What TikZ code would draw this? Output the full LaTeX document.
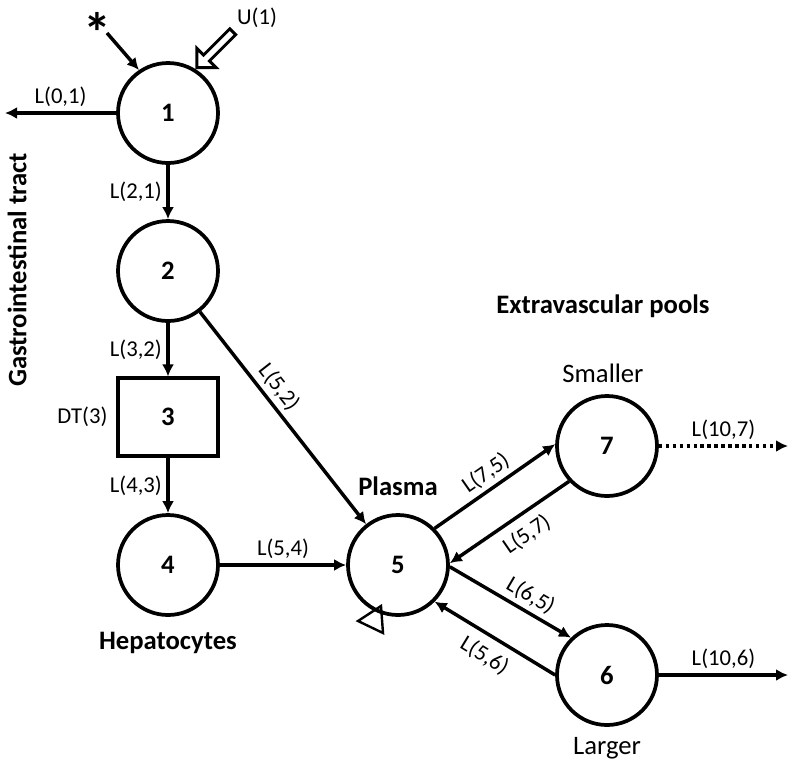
\documentclass[tikz,border=0pt]{standalone}
\usepackage{fontspec}
\setmainfont{Carlito}
\usetikzlibrary{positioning,arrows.meta,shapes.arrows}

\tikzset{
	pool/.style={circle,draw=black,line width=2.8pt,minimum size=75pt,inner sep=0pt,font=\fontsize{20}{24}\selectfont\bfseries},
	delaybox/.style={rectangle,draw=black,line width=2.8pt,minimum width=75pt,minimum height=58pt,inner sep=0pt,font=\fontsize{20}{24}\selectfont\bfseries},
	flow/.style={line width=2.6pt,-{Latex[length=9pt,width=9pt]}},
	rate/.style={font=\fontsize{17}{20}\selectfont},
	tag/.style={font=\fontsize{20}{24}\selectfont},
	region/.style={font=\fontsize{20}{24}\selectfont\bfseries},
	intake/.style={single arrow,draw=black,line width=2.2pt,minimum height=38pt,inner xsep=0pt,inner ysep=2pt,single arrow head extend=7pt},
}

\begin{document}
\begin{tikzpicture}[x=0.75pt,y=-0.75pt]
		\useasboundingbox (0,0) rectangle (794,769);
		
		\node[pool] (n1) at (168,113) {1};
		\node[pool] (n2) at (168,271) {2};
		\node[delaybox] (n3) at (168,417) {3};
		\node[pool] (n4) at (168,565) {4};
		\node[pool] (n5) at (398,565) {5};
		\node[pool] (n7) at (607,446) {7};
		\node[pool] (n6) at (607,675) {6};
		
		\node[rate,left=3pt of n3] (dt3) {DT(3)};
		
		\node[region,rotate=90] (gi) at (17,270) {Gastrointestinal tract};
		\node[region] (hep) at (168,643) {Hepatocytes};
		\node[region] (plasma) at (398,486) {Plasma};
		\node[region] (extra) at (603,306) {Extravascular pools};
		\node[tag] (small) at (603,373) {Smaller};
		\node[tag] (large) at (607,748) {Larger};
		
		\node[font=\fontsize{42}{46}\selectfont\bfseries] (ast) at (97,32) {*};
		\coordinate (astend) at (107,33);
		\draw[flow] (astend)--(n1.124);
		
		\node[intake,rotate=225,anchor=tip] (u1) at (n1.58) {};
		\node[rate] (u1lbl) at (257,18) {U(1)};
		
		\coordinate (out1) at (5,113);
		\draw[flow] (n1)-- node[rate,above] (l01) {L(0,1)} (out1);
		
		\draw[flow] (n1)-- node[rate,left] (l21) {L(2,1)} (n2);
		\draw[flow] (n2)-- node[rate,left] (l32) {L(3,2)} (n3);
		\draw[flow] (n3)-- node[rate,left] (l43) {L(4,3)} (n4);
		
		\draw[flow] (n2)-- node[rate,sloped,above,pos=0.4] (l52) {L(5,2)} (n5);
		\draw[flow] (n4)-- node[rate,above] (l54) {L(5,4)} (n5);
		
		\draw[flow] (n5.45)-- node[rate,sloped,above] (l75) {L(7,5)} (n7.178);
		\draw[flow] (n7.223)-- node[rate,sloped,below=3pt,pos=0.45] (l57) {L(5,7)} (n5.2);
		\draw[flow] (n5.-2)-- node[rate,sloped,above,pos=0.6] (l65) {L(6,5)} (n6.134);
		\draw[flow] (n6.180)-- node[rate,sloped,below=3pt] (l56) {L(5,6)} (n5.-45);
		
		\draw[line width=1.8pt] (358,621)--(383,633)--(381,606)--cycle;
		
		\coordinate (out7) at (788,446);
		\draw[flow,dash pattern=on 2.6pt off 2.6pt] (n7)-- node[rate,above] (l107) {L(10,7)} (out7);
		
		\coordinate (out6) at (788,675);
		\draw[flow] (n6)-- node[rate,above] (l106) {L(10,6)} (out6);
	\end{tikzpicture}
\end{document}
